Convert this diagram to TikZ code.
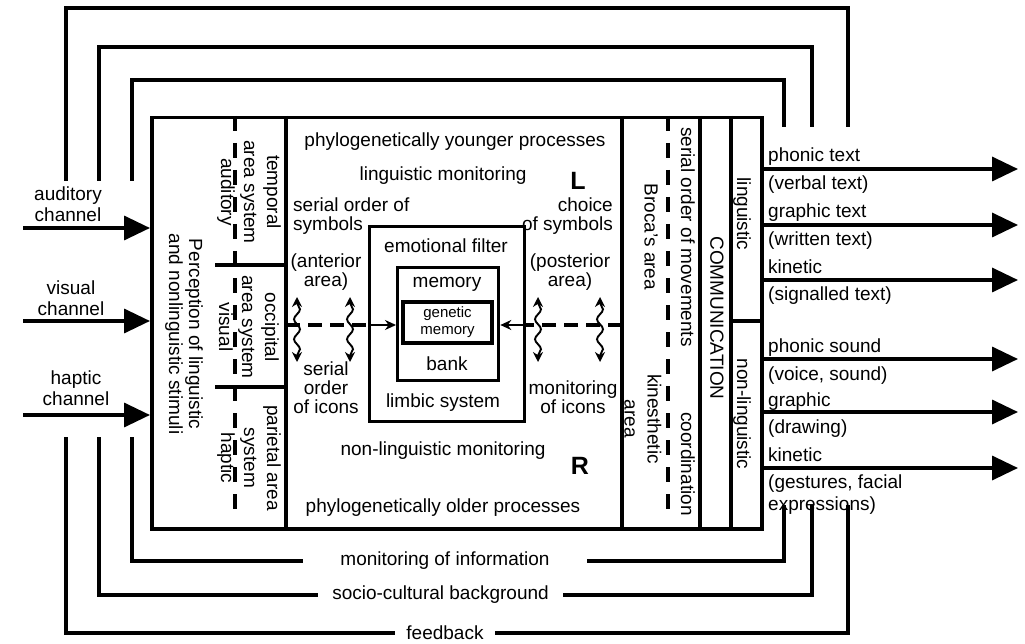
\documentclass[tikz,border=0pt]{standalone}
\usepackage{fontspec}
\setmainfont{Liberation Sans}
\usetikzlibrary{arrows.meta,decorations.pathmorphing}
\tikzset{
  thk/.style={line width=3.5pt},
  txt/.style={font=\fontsize{19}{19}\selectfont, inner sep=0pt, align=center},
  rtxt/.style={txt, rotate=-90, font=\fontsize{19}{23}\selectfont},
  bigarr/.style={line width=3.5pt, -{Triangle[length=26pt,width=24pt]}},
  dashv/.style={line width=3.5pt, dash pattern=on 15pt off 12pt},
  dashh/.style={line width=4pt, dash pattern=on 14pt off 8pt},
  smallarr/.style={line width=2.6pt, -{Stealth[length=11pt,width=10pt]}},
  wavy/.style={line width=1.9pt, {Stealth[length=10pt,width=10pt]}-{Stealth[length=10pt,width=10pt]}, decorate, decoration={snake, amplitude=3pt, segment length=20pt, pre length=6pt, post length=6pt}},
  boxn/.style={draw, line width=3.3pt, inner sep=0pt, anchor=north west},
  outl/.style={txt, anchor=base west},
  bold/.style={txt, font=\bfseries\fontsize{25}{25}\selectfont},
}
\begin{document}
\begin{tikzpicture}[x=1pt,y=-1pt]
\useasboundingbox (0,0) rectangle (1025,644);
% main box
\node[boxn, line width=3.5pt, minimum width=610pt, minimum height=411pt] (main) at (150,116) {};
% dividers
\draw[thk] (286,116) -- (286,527);
\draw[thk] (622,116) -- (622,527);
\draw[thk] (700,116) -- (700,527);
\draw[thk] (731,116) -- (731,527);
\draw[dashv] (235,116) -- (235,512);
\draw[dashv] (668,116) -- (668,513);
\draw[thk] (215,265) -- (286,265);
\draw[thk] (215,387) -- (286,387);
\draw[thk] (731,321) -- (760,321);
% central boxes
\node[boxn, minimum width=155pt, minimum height=195pt] (emo) at (368,225) {};
\node[boxn, minimum width=101pt, minimum height=113pt] (mem) at (396,266) {};
\node[boxn, minimum width=89pt, minimum height=41pt, anchor=center, font=\fontsize{15}{17}\selectfont, align=center] (gen) at (447.5,322.5) {genetic\\memory};
% dashed arrows
\coordinate (dL) at (286,325);
\coordinate (dR) at (622,325);
\draw[dashh] (dL) -- (emo.west |- dL);
\draw[smallarr] (emo.west |- dL) -- (mem.west |- dL);
\draw[dashh] (dR) -- (emo.east |- dR);
\draw[smallarr] (emo.east |- dR) -- (mem.east |- dR);
% wavy arrows
\foreach \x/\n in {297/a,350/b,538/c,600/d}{
  \coordinate (w\n t) at (\x,297);
  \coordinate (w\n b) at (\x,362);
  \draw[wavy] (w\n t) -- (w\n b);
}
% middle texts
\node[txt] (pyp) at (455,142) {phylogenetically younger processes};
\node[txt] (lmon) at (443,176) {linguistic monitoring};
\node[bold] (Lt) at (578,181) {L};
\node[txt, align=left, anchor=west] (sos) at (293,216.5) {serial order of\\symbols};
\node[txt, align=right, anchor=east] (cos) at (613,216.5) {choice\\of symbols};
\node[txt] (ant) at (326,272.5) {(anterior\\area)};
\node[txt] (post) at (570,272.5) {(posterior\\area)};
\node[txt] (emot) at (446,246) {emotional filter};
\node[txt] (memt) at (447,284) {memory};
\node[txt] (bank) at (447,364) {bank};
\node[txt] (limb) at (443,403) {limbic system};
\node[txt] (soi) at (326,388) {serial\\order\\of icons};
\node[txt] (moi) at (573,397.5) {monitoring\\of icons};
\node[txt] (nlm) at (443,451) {non-linguistic monitoring};
\node[bold] (Rt) at (580,465.5) {R};
\node[txt] (pop) at (443,508) {phylogenetically older processes};
% left column rotated texts
\node[rtxt, font=\fontsize{19}{20}\selectfont] (perc) at (184,334) {Perception of linguistic\\and nonlinguistic stimuli};
\node[rtxt] (temp) at (249,192) {temporal\\area system\\auditory};
\node[rtxt] (occ) at (249,327) {occipital\\area system\\visual};
\node[rtxt] (par) at (249,458) {parietal area\\system\\haptic};
% right column rotated texts
\node[rtxt] (broca) at (651,237) {Broca's area};
\node[rtxt] (som) at (688,237) {serial order of movements};
\node[rtxt] (kin) at (643,419) {kinesthetic\\area};
\node[rtxt] (coord) at (688,464) {coordination};
\node[rtxt] (comm) at (717,318) {COMMUNICATION};
\node[rtxt] (ling) at (742,214) {linguistic};
\node[rtxt] (nling) at (742,414) {non-linguistic};
% input arrows
\node[txt, font=\fontsize{19}{21}\selectfont] (audl) at (68,204) {auditory\\channel};
\node[txt, font=\fontsize{19}{21}\selectfont] (visl) at (71,298) {visual\\channel};
\node[txt, font=\fontsize{19}{21}\selectfont] (hapl) at (76,388) {haptic\\channel};
\coordinate (inA) at (23,228);
\coordinate (inV) at (23,321);
\coordinate (inH) at (23,415);
\draw[bigarr] (inA) -- (main.west |- inA);
\draw[bigarr] (inV) -- (main.west |- inV);
\draw[bigarr] (inH) -- (main.west |- inH);
% output arrows
\coordinate (o1) at (1018,169);
\coordinate (o2) at (1018,225);
\coordinate (o3) at (1018,280);
\coordinate (o4) at (1018,359);
\coordinate (o5) at (1018,412);
\coordinate (o6) at (1018,468);
\foreach \o in {o1,o2,o3,o4,o5,o6}{\draw[bigarr] (main.east |- \o) -- (\o);}
\node[outl] (t1a) at (768,162) {phonic text};
\node[outl] (t1b) at (768,190) {(verbal text)};
\node[outl] (t2a) at (768,218) {graphic text};
\node[outl] (t2b) at (768,246) {(written text)};
\node[outl] (t3a) at (768,273) {kinetic};
\node[outl] (t3b) at (768,301) {(signalled text)};
\node[outl] (t4a) at (768,352) {phonic sound};
\node[outl] (t4b) at (768,380) {(voice, sound)};
\node[outl] (t5a) at (768,406) {graphic};
\node[outl] (t5b) at (768,433) {(drawing)};
\node[outl] (t6a) at (768,461) {kinetic};
\node[txt, font=\fontsize{19}{22}\selectfont, align=left, anchor=north west] (t6b) at (768,475) {(gestures, facial\\expressions)};
% top loops
\coordinate (fbTL) at (66,181);  \coordinate (fbTR) at (848,127);
\coordinate (scTL) at (99,181);  \coordinate (scTR) at (812,127);
\coordinate (moTL) at (132,181); \coordinate (moTR) at (784,127);
\draw[thk] (fbTL) -- (66,8) -- (848,8) -- (fbTR);
\draw[thk] (scTL) -- (99,47) -- (812,47) -- (scTR);
\draw[thk] (moTL) -- (132,80) -- (784,80) -- (moTR);
% bottom loops
\node[txt, inner xsep=37.5pt] (mon) at (445,561) {monitoring of information};
\node[txt, inner xsep=14.5pt] (soc) at (440.5,595) {socio-cultural background};
\node[txt, inner xsep=11.5pt] (fb) at (445,633) {feedback};
\coordinate (moBL) at (132,437); \coordinate (moBR) at (784,505);
\coordinate (scBL) at (99,437);  \coordinate (scBR) at (812,505);
\coordinate (fbBL) at (66,437);  \coordinate (fbBR) at (848,505);
\draw[thk] (mon.west) -| (moBL);
\draw[thk] (mon.east) -| (moBR);
\draw[thk] (soc.west) -| (scBL);
\draw[thk] (soc.east) -| (scBR);
\draw[thk] (fb.west) -| (fbBL);
\draw[thk] (fb.east) -| (fbBR);
\end{tikzpicture}
\end{document}
